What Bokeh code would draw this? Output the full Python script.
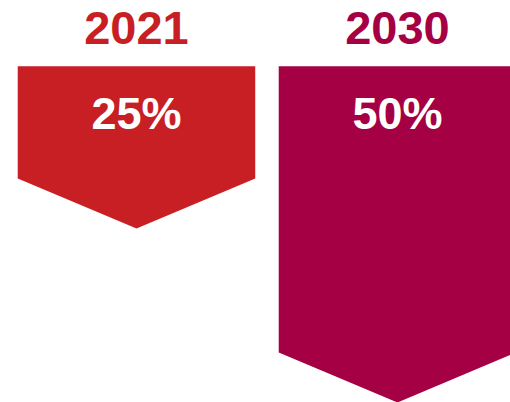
from bokeh.plotting import figure
from bokeh.models import Range1d, ColumnDataSource
from bokeh.core.properties import value
from bokeh.embed import file_html
from bokeh.resources import INLINE

years = ["2021", "2030"]
shares = [25, 50]
share_labels = ["25%", "50%"]
colors = ["#C71F24", "#A50044"]

half = 0.455
notch = 7.2
start = 1.7
xs, ys = [], []
for i, v in enumerate(shares):
    xs.append([i - half, i + half, i + half, i, i - half])
    ys.append([start, start, v - notch, v, v - notch])

p = figure(width=510, height=402,
           x_range=Range1d(-0.521, 1.433), y_range=Range1d(50.0, -7.76),
           output_backend="svg", toolbar_location=None, min_border=0)
p.axis.visible = False
p.grid.visible = False
p.outline_line_color = None
p.background_fill_color = "white"
p.border_fill_color = "white"

p.patches(xs, ys, fill_color=colors, line_color=None)

src = ColumnDataSource(dict(x=list(range(len(years))), years=years,
                            labels=share_labels, colors=colors,
                            ty=[-3.75] * len(years), vy=[8.45] * len(years)))
p.text(x="x", y="ty", text="years", source=src, text_color="colors",
       text_font=value("Liberation Sans"), text_font_style="bold",
       text_font_size="47px", text_align="center", text_baseline="alphabetic")
p.text(x="x", y="vy", text="labels", source=src, text_color="white",
       text_font=value("Liberation Sans"), text_font_style="bold",
       text_font_size="45px", text_align="center", text_baseline="alphabetic")

open("out.html", "w").write(file_html(p, INLINE))
